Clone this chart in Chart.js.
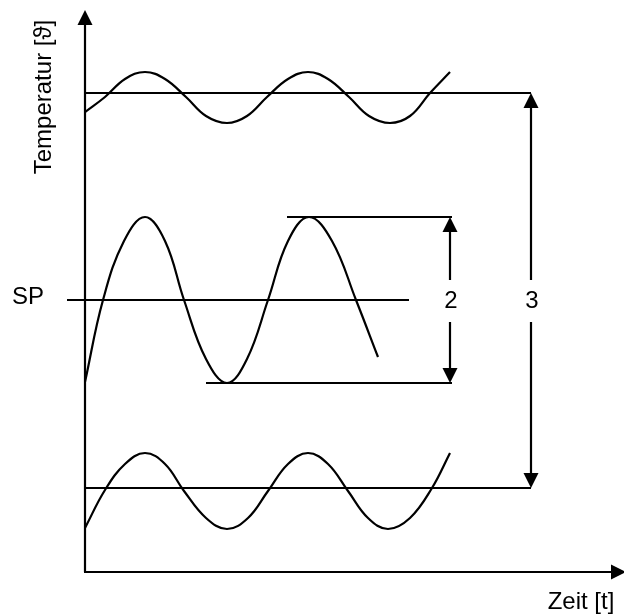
<!DOCTYPE html>
<html>
<head>
<meta charset="utf-8">
<script src="https://cdn.jsdelivr.net/npm/chart.js@4/dist/chart.umd.min.js"></script>
<style>
  html, body { margin: 0; padding: 0; background: #fff; }
  canvas { display: block; }
</style>
</head>
<body>
<canvas id="myChart" width="624" height="616"></canvas>
<script>
// values: x = time, y = temperature (same units as the axes)
const topWaveX = [0, 20, 40, 60, 80, 101, 121, 142, 162, 182, 203, 223, 243, 264, 284, 305, 325, 345, 365];
const topWaveY = [460, 475, 493, 500, 493, 475, 456, 449, 456, 475, 493, 500, 493, 475, 456, 449, 456, 479, 500];

const midWaveX = [0, 18, 39, 60, 80, 99, 121, 142, 162, 183, 203, 224, 247, 271, 293];
const midWaveY = [190, 272, 331, 355, 331, 272, 213, 189, 213, 272, 331, 355, 331, 272, 215];

const lowWaveX = [0, 20, 40, 60, 80, 99, 121, 142, 163, 183, 203, 223, 243, 263, 283, 303, 325, 347, 365];
const lowWaveY = [44, 82, 108, 119, 108, 81, 54, 43, 54, 81, 108, 119, 108, 81, 54, 43, 54, 84, 119];

// horizontal lines: [xStart, xEnd, y]
const hLines = [
  [0, 446, 479],    // upper limit
  [0, 446, 84],     // lower limit
  [202, 367, 355],  // amplitude top
  [121, 367, 189],  // amplitude bottom
  [-18, 324, 272]   // set point SP
];

// double arrows: x, yFrom, yTo, label
const arrowX = [365, 446];
const arrowFrom = [189, 84];
const arrowTo = [355, 479];
const arrowLabels = ['2', '3'];

const xAxisEnd = 541;
const yAxisEnd = 562;

const FONT = '24px "Liberation Sans", Arial, "DejaVu Sans", sans-serif';

function pts(xs, ys) {
  return xs.map((v, i) => ({x: v, y: ys[i]}));
}

const datasets = [];
[[topWaveX, topWaveY], [midWaveX, midWaveY], [lowWaveX, lowWaveY]].forEach(w => {
  datasets.push({
    data: pts(w[0], w[1]),
    borderColor: '#000',
    borderWidth: 2.2,
    pointRadius: 0,
    tension: 0.4,
    fill: false
  });
});
hLines.forEach(l => {
  datasets.push({
    data: [{x: l[0], y: l[2]}, {x: l[1], y: l[2]}],
    borderColor: '#000',
    borderWidth: 2.2,
    pointRadius: 0,
    tension: 0,
    clip: false
  });
});

function head(ctx, px, py, dir) {
  // dir -1 = pointing up, 1 = down, 'r' = right
  ctx.beginPath();
  if (dir === 'r') {
    ctx.moveTo(px, py);
    ctx.lineTo(px - 15, py - 7.5);
    ctx.lineTo(px - 15, py + 7.5);
  } else {
    ctx.moveTo(px, py);
    ctx.lineTo(px - 7.5, py - dir * 15);
    ctx.lineTo(px + 7.5, py - dir * 15);
  }
  ctx.closePath();
  ctx.fill();
}

const diagram = {
  id: 'diagram',
  afterDatasetsDraw(chart) {
    const ctx = chart.ctx;
    const x = chart.scales.x, y = chart.scales.y;
    ctx.save();
    ctx.strokeStyle = '#000';
    ctx.fillStyle = '#000';
    ctx.lineWidth = 2.2;

    // axes
    const ox = x.getPixelForValue(0), oy = y.getPixelForValue(0);
    const ty = y.getPixelForValue(yAxisEnd), tx = x.getPixelForValue(xAxisEnd);
    ctx.beginPath();
    ctx.moveTo(ox, oy);
    ctx.lineTo(ox, ty + 10);
    ctx.moveTo(ox - 1, oy);
    ctx.lineTo(tx - 10, oy);
    ctx.stroke();
    head(ctx, ox, ty, -1);
    head(ctx, tx, oy, 'r');

    // double arrows with labels
    ctx.font = FONT;
    ctx.textAlign = 'center';
    ctx.textBaseline = 'middle';
    arrowX.forEach((v, i) => {
      const px = x.getPixelForValue(v);
      const pTop = y.getPixelForValue(arrowTo[i]);
      const pBot = y.getPixelForValue(arrowFrom[i]);
      const mid = y.getPixelForValue(272);
      ctx.beginPath();
      ctx.moveTo(px, pTop + 10);
      ctx.lineTo(px, mid - 20);
      ctx.moveTo(px, mid + 22);
      ctx.lineTo(px, pBot - 10);
      ctx.stroke();
      head(ctx, px, pTop, -1);
      head(ctx, px, pBot, 1);
      ctx.fillText(arrowLabels[i], px + 1, mid + 1);
    });

    // texts
    ctx.fillText('SP', x.getPixelForValue(-57), y.getPixelForValue(275));
    ctx.fillText('Zeit [t]', x.getPixelForValue(496), y.getPixelForValue(-30));
    ctx.save();
    ctx.translate(x.getPixelForValue(-41), y.getPixelForValue(475));
    ctx.rotate(-Math.PI / 2);
    ctx.fillText('Temperatur [\u03D1]', 0, 0);
    ctx.restore();

    ctx.restore();
  }
};

new Chart(document.getElementById('myChart').getContext('2d'), {
  type: 'line',
  data: {datasets: datasets},
  options: {
    responsive: false,
    animation: false,
    layout: {padding: {left: 85, right: 0, top: 10, bottom: 44}},
    plugins: {legend: {display: false}, tooltip: {enabled: false}},
    scales: {
      x: {type: 'linear', min: 0, max: 539, display: false},
      y: {type: 'linear', min: 0, max: 562, display: false}
    }
  },
  plugins: [diagram]
});
</script>
</body>
</html>
